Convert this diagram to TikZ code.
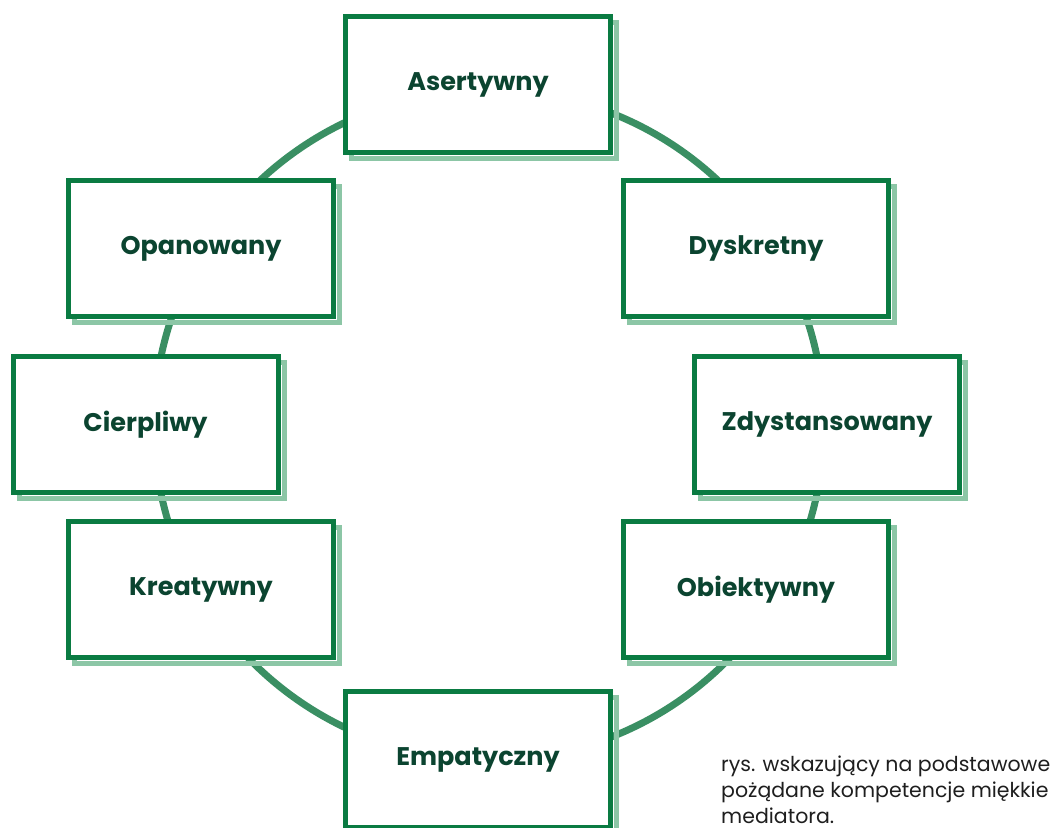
\documentclass[tikz,border=0pt]{standalone}
\usepackage{fontspec}
\setmainfont{Poppins}
\usetikzlibrary{positioning}

\definecolor{framegreen}{HTML}{0A7B42}
\definecolor{shadegreen}{HTML}{8CC6A6}
\definecolor{ringgreen}{HTML}{3A8F63}
\definecolor{labelgreen}{HTML}{0B4430}
\definecolor{captiongray}{HTML}{1E1E1E}

\begin{document}
\begin{tikzpicture}[x=1pt, y=-1pt,
    trait/.style={draw=framegreen, line width=5pt, fill=white,
        minimum width=265pt, minimum height=136pt, inner sep=0pt,
        text=labelgreen, font=\fontsize{25.5}{30}\selectfont\bfseries,
        preaction={draw=shadegreen, transform canvas={shift={(6pt,-6pt)}}}},
    ring/.style={draw=ringgreen, line width=7pt}]
    \useasboundingbox (0,0) rectangle (1051,827);

    % Ring
    \coordinate (middle) at (489,425);
    \draw[ring] (middle) circle (335pt);

    % Nodes
    \node[trait] (asertywny) at (478,84.5) {Asertywny};
    \node[trait] (opanowany) at (201,248.5) {Opanowany};
    \node[trait] (dyskretny) at (756,248.5) {Dyskretny};
    \node[trait] (cierpliwy) at (145.5,424.5) {Cierpliwy};
    \node[trait] (zdystansowany) at (827,424.5) {Zdystansowany};
    \node[trait] (kreatywny) at (201,589.5) {Kreatywny};
    \node[trait] (obiektywny) at (756,589.5) {Obiektywny};
    \node[trait] (empatyczny) at (478,759.5) {Empatyczny};

    % Caption
    \node (caption) [anchor=north west, inner sep=0pt, align=left,
        text=captiongray, font=\fontsize{20.5}{26}\selectfont] at (721,756)
        {rys. wskazujący na podstawowe\\pożądane kompetencje miękkie\\mediatora.};
\end{tikzpicture}
\end{document}
